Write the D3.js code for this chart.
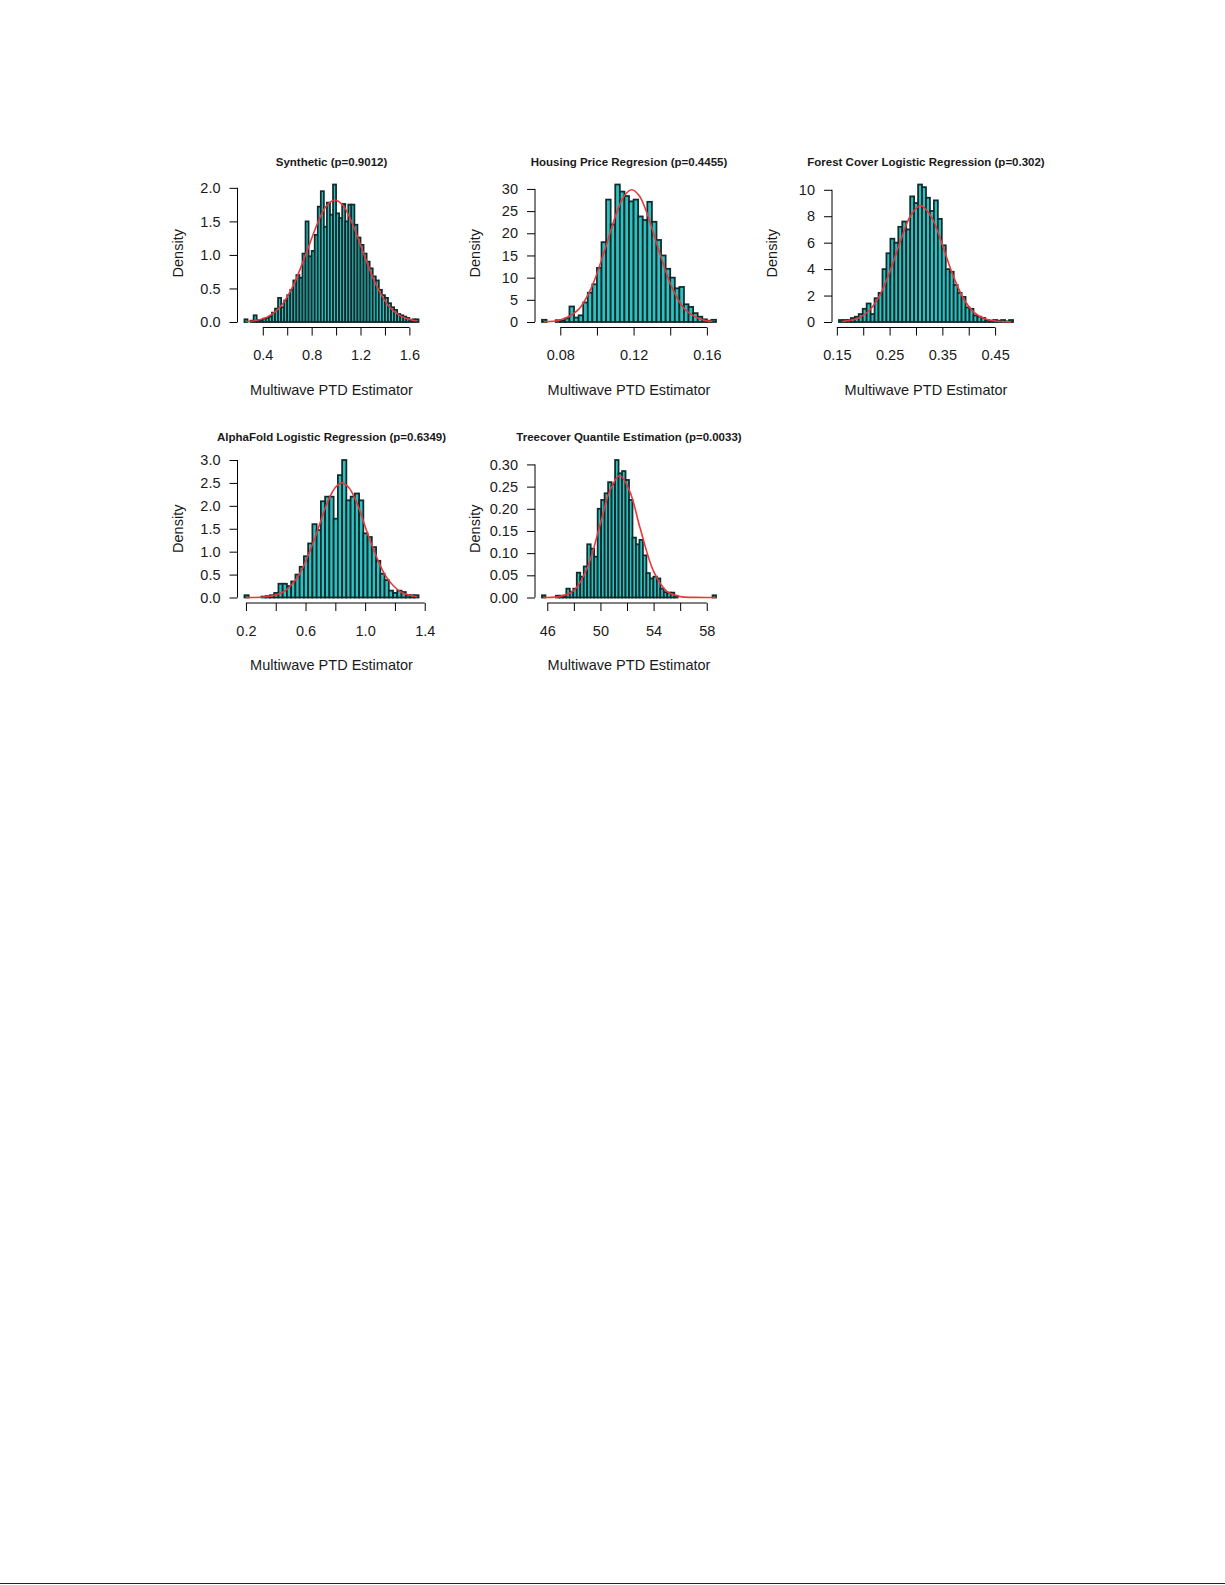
<!DOCTYPE html>
<html>
<head>
<meta charset="utf-8">
<script src="https://cdn.jsdelivr.net/npm/d3@7"></script>
<style>
body { margin: 0; background: #fff; }
text { font-family: "Liberation Sans", Arial, sans-serif; fill: #1a1a1a; }
</style>
</head>
<body>
<svg id="fig" width="1225" height="1585"></svg>
<script>
// panel titles
var titles = [
	"Synthetic (p=0.9012)",
	"Housing Price Regresion (p=0.4455)",
	"Forest Cover Logistic Regression (p=0.302)",
	"AlphaFold Logistic Regression (p=0.6349)",
	"Treecover Quantile Estimation (p=0.0033)"
]

// histogram bins: first break and bin width, then densities
var binStart = [0.25, 0.07, 0.154, 0.19, 45.6]
var binWidth = [0.025, 0.0025, 0.0075, 0.0285, 0.262]

var synthetic = [0.04, 0.00, 0.02, 0.10, 0.03, 0.03, 0.05, 0.06, 0.08, 0.14,
	0.20, 0.36, 0.22, 0.32, 0.40, 0.48, 0.62, 0.70, 0.66, 1.02,
	1.50, 0.98, 1.06, 1.30, 1.72, 1.95, 1.42, 1.78, 1.60, 2.05,
	1.62, 1.55, 1.76, 1.50, 1.75, 1.75, 1.45, 1.26, 1.15, 1.02,
	0.90, 0.80, 0.68, 0.62, 0.48, 0.40, 0.36, 0.28, 0.22, 0.18,
	0.12, 0.10, 0.08, 0.06, 0.02, 0.04, 0.04]
var housing = [0.5, 0, 0, 0.4, 0.3, 0.8, 3.5, 1.0, 1.5, 4.4,
	6.6, 8.5, 12.2, 18.0, 27.6, 22.0, 31.0, 29.4, 28.4, 27.2,
	27.6, 23.8, 23.0, 27.1, 22.6, 18.5, 15.0, 12.0, 10.0, 7.6,
	7.9, 4.0, 3.4, 2.0, 1.2, 0.6, 0.3, 0.5]
var forest = [0.15, 0.15, 0.15, 0.3, 0.4, 0.6, 1.0, 1.4, 0.6, 1.8,
	2.2, 4.0, 5.2, 6.3, 6.0, 7.2, 7.6, 7.0, 9.5, 9.0,
	10.4, 10.2, 9.4, 8.4, 9.2, 7.8, 5.8, 4.0, 3.8, 2.8,
	2.2, 1.9, 1.1, 1.0, 0.5, 0.4, 0.3, 0.15, 0.1, 0.15,
	0.1, 0.15, 0.05, 0.15]
var alphafold = [0.05, 0, 0, 0, 0.02, 0.03, 0.05, 0.1, 0.3, 0.3,
	0.25, 0.35, 0.5, 0.67, 0.9, 1.18, 1.6, 1.47, 2.1, 2.2,
	2.2, 1.72, 2.67, 3.0, 2.12, 2.2, 2.27, 2.12, 1.4, 1.32,
	1.1, 0.8, 0.52, 0.38, 0.15, 0.1, 0.15, 0.12, 0.05, 0.05, 0.05]
var treecover = [0.005, 0, 0, 0, 0.004, 0.004, 0.004, 0.02, 0.013, 0.02,
	0.056, 0.047, 0.07, 0.12, 0.11, 0.092, 0.2, 0.22, 0.235, 0.26,
	0.255, 0.31, 0.28, 0.285, 0.265, 0.22, 0.135, 0.12, 0.13, 0.095,
	0.055, 0.043, 0.047, 0.043, 0.02, 0.012, 0.011, 0.011, 0.004, 0,
	0, 0, 0, 0, 0, 0, 0, 0, 0, 0.005]

// red density curves
var synthCurveX = [0.26, 0.35, 0.45, 0.55, 0.65, 0.75, 0.85, 0.92, 0.99, 1.06, 1.13, 1.23, 1.33, 1.43, 1.53, 1.63, 1.66]
var synthCurveY = [0.007, 0.025, 0.087, 0.24, 0.545, 1.0, 1.48, 1.73, 1.82, 1.73, 1.48, 1.0, 0.545, 0.24, 0.087, 0.025, 0.017]
var housingCurveX = [0.071, 0.08, 0.09, 0.097, 0.104, 0.111, 0.115, 0.119, 0.123, 0.127, 0.134, 0.141, 0.148, 0.158, 0.163]
var housingCurveY = [0.05, 0.43, 2.86, 7.74, 15.9, 24.9, 28.5, 29.8, 28.5, 24.9, 15.9, 7.74, 2.86, 0.43, 0.14]
var forestCurveX = [0.16, 0.19, 0.21, 0.23, 0.25, 0.27, 0.29, 0.309, 0.33, 0.35, 0.37, 0.39, 0.41, 0.43, 0.45, 0.48]
var forestCurveY = [0.04, 0.28, 0.81, 1.92, 3.77, 6.07, 8.06, 8.8, 7.9, 5.84, 3.55, 1.78, 0.73, 0.25, 0.07, 0.01]
var alphaCurveX = [0.2, 0.35, 0.45, 0.55, 0.65, 0.75, 0.80, 0.845, 0.89, 0.94, 1.04, 1.14, 1.24, 1.35]
var alphaCurveY = [0.001, 0.021, 0.12, 0.46, 1.19, 2.10, 2.40, 2.5, 2.40, 2.10, 1.19, 0.46, 0.12, 0.017]
var treeCurveX = [45.7, 47, 48, 49, 50, 50.7, 51.45, 52.2, 53, 54, 55, 56, 57, 58.7]
var treeCurveY = [0.0001, 0.0025, 0.016, 0.066, 0.167, 0.24, 0.275, 0.24, 0.155, 0.059, 0.014, 0.002, 0.0002, 0]

// axis ticks (empty label = tick drawn without text, as R drops it)
var xTicks = [
	[0.4, 0.6, 0.8, 1.0, 1.2, 1.4, 1.6],
	[0.08, 0.10, 0.12, 0.14, 0.16],
	[0.15, 0.20, 0.25, 0.30, 0.35, 0.40, 0.45],
	[0.2, 0.4, 0.6, 0.8, 1.0, 1.2, 1.4],
	[46, 48, 50, 52, 54, 56, 58]
]
var xTickLabels = [
	["0.4", "", "0.8", "", "1.2", "", "1.6"],
	["0.08", "", "0.12", "", "0.16"],
	["0.15", "", "0.25", "", "0.35", "", "0.45"],
	["0.2", "", "0.6", "", "1.0", "", "1.4"],
	["46", "", "50", "", "54", "", "58"]
]
var yTicks = [
	[0, 0.5, 1.0, 1.5, 2.0],
	[0, 5, 10, 15, 20, 25, 30],
	[0, 2, 4, 6, 8, 10],
	[0, 0.5, 1.0, 1.5, 2.0, 2.5, 3.0],
	[0, 0.05, 0.10, 0.15, 0.20, 0.25, 0.30]
]
var yTickLabels = [
	["0.0", "0.5", "1.0", "1.5", "2.0"],
	["0", "5", "10", "15", "20", "25", "30"],
	["0", "2", "4", "6", "8", "10"],
	["0.0", "0.5", "1.0", "1.5", "2.0", "2.5", "3.0"],
	["0.00", "0.05", "0.10", "0.15", "0.20", "0.25", "0.30"]
]

var densities = [synthetic, housing, forest, alphafold, treecover]
var curvesX = [synthCurveX, housingCurveX, forestCurveX, alphaCurveX, treeCurveX]
var curvesY = [synthCurveY, housingCurveY, forestCurveY, alphaCurveY, treeCurveY]

var svg = d3.select("#fig")
var colLeft = [237.5, 535, 832],
	rowTop = [179, 454.5],
	W = 188,
	H = 148.5,
	fontSize = 14.5

svg.append("rect").attr("width", 1225).attr("height", 1585).attr("fill", "#fff")

densities.forEach(function(dens, k)
{
	var left = colLeft[k % 3],
		top = rowTop[Math.floor(k / 3)],
		bottom = top + H

	var x0 = binStart[k],
		x1 = binStart[k] + binWidth[k] * dens.length,
		pad = (x1 - x0) * 0.04
	var x = d3.scaleLinear().domain([x0 - pad, x1 + pad]).range([left, left + W])

	var ymax = d3.max(dens)
	var y = d3.scaleLinear().domain([-0.04 * ymax, 1.04 * ymax]).range([bottom, top])

	var g = svg.append("g")

	// bars
	g.selectAll("rect.bar")
		.data(dens)
		.enter().append("rect")
		.attr("class", "bar")
		.attr("x", function(d, i) { return x(x0 + i * binWidth[k]) })
		.attr("width", function(d, i) { return x(x0 + (i + 1) * binWidth[k]) - x(x0 + i * binWidth[k]) })
		.attr("y", function(d) { return y(d) })
		.attr("height", function(d) { return y(0) - y(d) })
		.attr("fill", "#2ac2c2")
		.attr("stroke", "#122a2a")
		.attr("stroke-width", 1.75)

	// fitted curve
	var pts = curvesX[k].map(function(v, i) { return {x: v, y: curvesY[k][i]} })
	var line = d3.line()
		.x(function(d) { return x(d.x) })
		.y(function(d) { return y(d.y) })
		.curve(d3.curveCatmullRom)
	g.append("path")
		.datum(pts)
		.attr("d", line)
		.attr("fill", "none")
		.attr("stroke", "#e8383d")
		.attr("stroke-width", 1.6)

	// x axis
	var xt = xTicks[k]
	var xAxis = d3.axisBottom(x)
		.tickValues(xt)
		.tickFormat(function(d, i) { return xTickLabels[k][i] })
		.tickSize(8)
		.tickPadding(14.5)
	var gx = g.append("g").attr("transform", "translate(0," + bottom + ")").call(xAxis)
	gx.select(".domain").remove()
	gx.append("line")
		.attr("x1", x(xt[0])).attr("x2", x(xt[xt.length - 1]))
		.attr("stroke", "#000")
	gx.selectAll("line").attr("stroke", "#000")
	gx.selectAll("text").style("font-size", fontSize + "px").attr("fill", "#1a1a1a")

	// y axis
	var yt = yTicks[k]
	var yAxis = d3.axisLeft(y)
		.tickValues(yt)
		.tickFormat(function(d, i) { return yTickLabels[k][i] })
		.tickSize(8)
		.tickPadding(9)
	var gy = g.append("g").attr("transform", "translate(" + left + ",0)").call(yAxis)
	gy.select(".domain").remove()
	gy.append("line")
		.attr("y1", y(yt[0])).attr("y2", y(yt[yt.length - 1]))
		.attr("stroke", "#000")
	gy.selectAll("line").attr("stroke", "#000")
	gy.selectAll("text").style("font-size", fontSize + "px").attr("fill", "#1a1a1a")

	// labels
	g.append("text")
		.attr("x", left + W / 2).attr("y", top - 13.5)
		.attr("text-anchor", "middle")
		.style("font-size", "11.5px").style("font-weight", "bold")
		.text(titles[k])
	g.append("text")
		.attr("x", left + W / 2).attr("y", bottom + 67)
		.attr("text-anchor", "middle")
		.style("font-size", fontSize + "px")
		.text("Multiwave PTD Estimator")
	g.append("text")
		.attr("transform", "translate(" + (left - 55) + "," + (top + H / 2) + ") rotate(-90)")
		.attr("text-anchor", "middle")
		.style("font-size", fontSize + "px")
		.text("Density")
})

// page edge line at the bottom of the scan
svg.append("line")
	.attr("x1", 0).attr("x2", 1225)
	.attr("y1", 1583.5).attr("y2", 1583.5)
	.attr("stroke", "#222")
	.attr("stroke-width", 1.2)
</script>
</body>
</html>
